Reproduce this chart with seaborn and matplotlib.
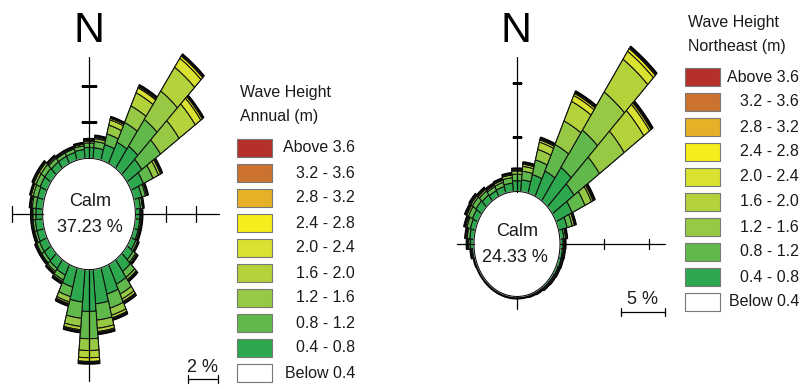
import numpy as np
import matplotlib
matplotlib.use("Agg")
import matplotlib.pyplot as plt
from matplotlib.patches import Rectangle
from matplotlib.lines import Line2D
import seaborn as sns

# ---------------- data ----------------
directions = list(range(0, 360, 10))

class_labels = ["Above 3.6", "3.2 - 3.6", "2.8 - 3.2", "2.4 - 2.8", "2.0 - 2.4",
                "1.6 - 2.0", "1.2 - 1.6", "0.8 - 1.2", "0.4 - 0.8", "Below 0.4"]
class_hex = ["#B5302A", "#CB7230", "#E6B126", "#F7EC1C", "#D9E231",
             "#B4D33B", "#97C944", "#62B94B", "#2DA84E", "#FFFFFF"]

calm_annual = "37.23 %"
calm_northeast = "24.33 %"

# Annual (percent of time per 10 degree sector), by wave-height class
ann_04_08 = [0.60, 0.60, 0.90, 1.30, 1.50, 1.20, 0.90, 0.55, 0.35, 0.30, 0.30, 0.30,
             0.35, 0.50, 0.80, 1.20, 1.50, 1.90, 2.30, 1.80, 1.10, 0.65, 0.60, 0.55,
             0.55, 0.50, 0.50, 0.45, 0.45, 0.45, 0.50, 0.50, 0.45, 0.45, 0.45, 0.50]
ann_08_12 = [0.25, 0.35, 0.60, 1.20, 1.80, 1.50, 0.70, 0.25, 0.15, 0.10, 0.10, 0.10,
             0.15, 0.20, 0.40, 0.60, 0.80, 0.90, 1.50, 0.90, 0.55, 0.30, 0.20, 0.20,
             0.20, 0.15, 0.15, 0.20, 0.25, 0.30, 0.30, 0.30, 0.25, 0.20, 0.20, 0.20]
ann_12_16 = [0.10, 0.15, 0.50, 1.00, 1.90, 1.50, 0.40, 0.10, 0.00, 0.00, 0.00, 0.00,
             0.00, 0.10, 0.15, 0.30, 0.40, 0.45, 0.65, 0.45, 0.30, 0.10, 0.10, 0.05,
             0.05, 0.05, 0.05, 0.05, 0.10, 0.15, 0.15, 0.15, 0.10, 0.05, 0.05, 0.10]
ann_16_20 = [0.05, 0.07, 0.30, 0.80, 1.60, 1.30, 0.15, 0.00, 0.00, 0.00, 0.00, 0.00,
             0.00, 0.00, 0.05, 0.15, 0.15, 0.18, 0.40, 0.18, 0.10, 0.05, 0.00, 0.00,
             0.00, 0.00, 0.00, 0.00, 0.00, 0.00, 0.05, 0.05, 0.00, 0.00, 0.00, 0.00]
ann_20_24 = [0.00, 0.03, 0.10, 0.30, 0.60, 0.45, 0.05, 0.00, 0.00, 0.00, 0.00, 0.00,
             0.00, 0.00, 0.00, 0.05, 0.05, 0.07, 0.20, 0.07, 0.05, 0.00, 0.00, 0.00,
             0.00, 0.00, 0.00, 0.00, 0.00, 0.00, 0.00, 0.00, 0.00, 0.00, 0.00, 0.00]
ann_24_28 = [0.00, 0.00, 0.00, 0.07, 0.15, 0.12, 0.00, 0.00, 0.00, 0.00, 0.00, 0.00,
             0.00, 0.00, 0.00, 0.00, 0.00, 0.00, 0.05, 0.00, 0.00, 0.00, 0.00, 0.00,
             0.00, 0.00, 0.00, 0.00, 0.00, 0.00, 0.00, 0.00, 0.00, 0.00, 0.00, 0.00]
ann_28_32 = [0.00, 0.00, 0.00, 0.03, 0.05, 0.03, 0.00, 0.00, 0.00, 0.00, 0.00, 0.00,
             0.00, 0.00, 0.00, 0.00, 0.00, 0.00, 0.00, 0.00, 0.00, 0.00, 0.00, 0.00,
             0.00, 0.00, 0.00, 0.00, 0.00, 0.00, 0.00, 0.00, 0.00, 0.00, 0.00, 0.00]

# Northeast monsoon
ne_04_08 = [1.00, 1.10, 1.80, 2.60, 3.80, 3.00, 2.00, 1.00, 0.45, 0.35, 0.30, 0.30,
            0.25, 0.20, 0.20, 0.15, 0.10, 0.05, 0.05, 0.05, 0.05, 0.05, 0.05, 0.05,
            0.05, 0.10, 0.20, 0.40, 0.50, 0.60, 0.70, 0.80, 0.70, 0.60, 0.65, 0.80]
ne_08_12 = [0.60, 0.80, 1.40, 2.70, 4.20, 3.50, 1.60, 0.60, 0.20, 0.15, 0.15, 0.10,
            0.10, 0.10, 0.05, 0.00, 0.00, 0.00, 0.00, 0.00, 0.00, 0.00, 0.00, 0.00,
            0.00, 0.00, 0.10, 0.20, 0.30, 0.40, 0.50, 0.50, 0.45, 0.40, 0.40, 0.50]
ne_12_16 = [0.30, 0.45, 1.00, 2.40, 4.30, 3.40, 0.80, 0.25, 0.05, 0.00, 0.00, 0.00,
            0.00, 0.00, 0.00, 0.00, 0.00, 0.00, 0.00, 0.00, 0.00, 0.00, 0.00, 0.00,
            0.00, 0.00, 0.00, 0.10, 0.10, 0.15, 0.20, 0.20, 0.20, 0.15, 0.20, 0.25]
ne_16_20 = [0.10, 0.20, 0.70, 2.00, 3.70, 2.70, 0.20, 0.05, 0.00, 0.00, 0.00, 0.00,
            0.00, 0.00, 0.00, 0.00, 0.00, 0.00, 0.00, 0.00, 0.00, 0.00, 0.00, 0.00,
            0.00, 0.00, 0.00, 0.00, 0.00, 0.05, 0.10, 0.10, 0.05, 0.05, 0.05, 0.05]
ne_20_24 = [0.00, 0.05, 0.20, 0.60, 0.90, 0.80, 0.10, 0.00, 0.00, 0.00, 0.00, 0.00,
            0.00, 0.00, 0.00, 0.00, 0.00, 0.00, 0.00, 0.00, 0.00, 0.00, 0.00, 0.00,
            0.00, 0.00, 0.00, 0.00, 0.00, 0.00, 0.00, 0.00, 0.00, 0.00, 0.00, 0.00]
ne_24_28 = [0.00, 0.00, 0.07, 0.20, 0.30, 0.20, 0.00, 0.00, 0.00, 0.00, 0.00, 0.00,
            0.00, 0.00, 0.00, 0.00, 0.00, 0.00, 0.00, 0.00, 0.00, 0.00, 0.00, 0.00,
            0.00, 0.00, 0.00, 0.00, 0.00, 0.00, 0.00, 0.00, 0.00, 0.00, 0.00, 0.00]
ne_28_32 = [0.00, 0.00, 0.03, 0.10, 0.10, 0.10, 0.00, 0.00, 0.00, 0.00, 0.00, 0.00,
            0.00, 0.00, 0.00, 0.00, 0.00, 0.00, 0.00, 0.00, 0.00, 0.00, 0.00, 0.00,
            0.00, 0.00, 0.00, 0.00, 0.00, 0.00, 0.00, 0.00, 0.00, 0.00, 0.00, 0.00]

annual_stack = [ann_04_08, ann_08_12, ann_12_16, ann_16_20, ann_20_24, ann_24_28, ann_28_32]
ne_stack = [ne_04_08, ne_08_12, ne_12_16, ne_16_20, ne_20_24, ne_24_28, ne_28_32]

# ---------------- style ----------------
sns.set_theme(style="white")
plt.rcParams["font.family"] = ["Liberation Sans", "DejaVu Sans"]
palette = sns.color_palette(class_hex)
# stacking order inner -> outer: 0.4-0.8, 0.8-1.2, ..., 2.8-3.2
stack_colors = [palette[8], palette[7], palette[6], palette[5], palette[4], palette[3], palette[2]]

W, H = 801, 389
fig = plt.figure(figsize=(W / 100, H / 100), dpi=100)
fig.patch.set_facecolor("white")
TXT = "#1a1a1a"


def fx(x):
    return x / W


def fy(y):
    return 1 - y / H


def add_rose(cx, cy, ppx, stretch, rmax):
    w = 2 * rmax * ppx
    h = w * stretch
    ax = fig.add_axes([fx(cx - w / 2), fy(cy + h / 2), w / W, h / H], projection="polar")
    ax.set_aspect("auto")
    ax.set_theta_zero_location("N")
    ax.set_theta_direction(-1)
    ax.patch.set_alpha(0)
    return ax


def draw_rose(ax, stack, r0, rmax, shadow, lines, ticks, tick_ms):
    theta = np.deg2rad(directions)
    width = np.deg2rad(10)
    data = np.array(stack)
    totals = data.sum(axis=0)
    # dark outline / shadow at the outer end
    ax.bar(theta, totals + shadow, width=width, bottom=r0, color="black",
           edgecolor="black", linewidth=0.8, zorder=2)
    bottom = np.full(len(directions), float(r0))
    for vals, col in zip(data, stack_colors):
        ax.bar(theta, vals, width=width, bottom=bottom, color=col,
               edgecolor="#111111", linewidth=0.75, zorder=3)
        bottom = bottom + vals
    # calm circle
    tt = np.linspace(0, 2 * np.pi, 361)
    ax.fill(tt, np.full_like(tt, r0), color="white", zorder=4)
    ax.plot(tt, np.full_like(tt, r0), color="black", lw=0.7, zorder=5)
    # axis cross
    for ang, length in lines.items():
        a = np.deg2rad(ang)
        ax.plot([a, a], [r0, r0 + length], color="black", lw=0.9, zorder=6)
    for ang, vals in ticks.items():
        a = np.deg2rad(ang)
        mk = "_" if ang in (0, 180) else "|"
        ax.plot([a] * len(vals), [r0 + v for v in vals], ls="none", marker=mk,
                ms=tick_ms, mew=0.9, color="black", zorder=6)
    ax.set_ylim(0, rmax)
    ax.axis("off")


def scale_bar(ax, r0, value, x_right, y, label, label_y):
    p1 = ax.transData.transform((np.pi / 2, r0))
    p2 = ax.transData.transform((np.pi / 2, r0 + value))
    length = p2[0] - p1[0]
    x0 = x_right - length
    fig.add_artist(Line2D([fx(x0), fx(x_right)], [fy(y), fy(y)], color="black", lw=0.9,
                          transform=fig.transFigure))
    for xx in (x0, x_right):
        fig.add_artist(Line2D([fx(xx), fx(xx)], [fy(y - 4), fy(y + 4)], color="black",
                              lw=0.9, transform=fig.transFigure))
    fig.text(fx((x0 + x_right) / 2), fy(label_y), label, ha="center", va="center",
             fontsize=13, color=TXT)


def legend(x_box, x_lab_right, y_title, title2, y_first):
    fig.text(fx(x_box + 3), fy(y_title), "Wave Height", ha="left", va="center",
             fontsize=11.5, color=TXT)
    fig.text(fx(x_box + 3), fy(y_title + 24), title2, ha="left", va="center",
             fontsize=11.5, color=TXT)
    for i, (lab, col) in enumerate(zip(class_labels, palette)):
        yc = y_first + 25 * i
        fig.add_artist(Rectangle((fx(x_box), fy(yc + 9)), 35 / W, 18 / H,
                                 facecolor=col, edgecolor="#777777", lw=0.8,
                                 transform=fig.transFigure))
        fig.text(fx(x_lab_right), fy(yc), lab, ha="right", va="center",
                 fontsize=11.5, color=TXT)


# ---------------- left rose (annual) ----------------
r0_a = 3.06
ax1 = add_rose(89, 214, 15.15, 1.2, 11.5)
draw_rose(ax1, annual_stack, r0_a, 11.5, 0.1,
          lines={0: 5.6, 90: 5.5, 180: 6.1, 270: 2.0},
          ticks={0: [2, 4], 90: [2, 4], 270: [2]}, tick_ms=11)
fig.text(fx(89), fy(31), "N", ha="center", va="center", fontsize=31, color="black")
fig.text(fx(90), fy(201), "Calm", ha="center", va="center", fontsize=13, color=TXT)
fig.text(fx(90), fy(227), calm_annual, ha="center", va="center", fontsize=13, color=TXT)
scale_bar(ax1, r0_a, 2, 218, 379, "2 %", 368)
legend(237, 355, 92, "Annual (m)", 148)

# ---------------- right rose (northeast) ----------------
r0_n = 4.85
ax2 = add_rose(517, 244, 8.87, 1.22, 23)
draw_rose(ax2, ne_stack, r0_n, 23, 0.18,
          lines={0: 12.4, 90: 11.8, 180: 1.2, 270: 1.9},
          ticks={0: [5, 10], 90: [5, 10]}, tick_ms=7.5)
fig.text(fx(516), fy(31), "N", ha="center", va="center", fontsize=31, color="black")
fig.text(fx(517), fy(232), "Calm", ha="center", va="center", fontsize=13, color=TXT)
fig.text(fx(515), fy(257), calm_northeast, ha="center", va="center", fontsize=13, color=TXT)
scale_bar(ax2, r0_n, 5, 665, 312, "5 %", 299)
legend(685, 799, 22, "Northeast (m)", 77)

fig.savefig("out.png", dpi=100, facecolor="white")
